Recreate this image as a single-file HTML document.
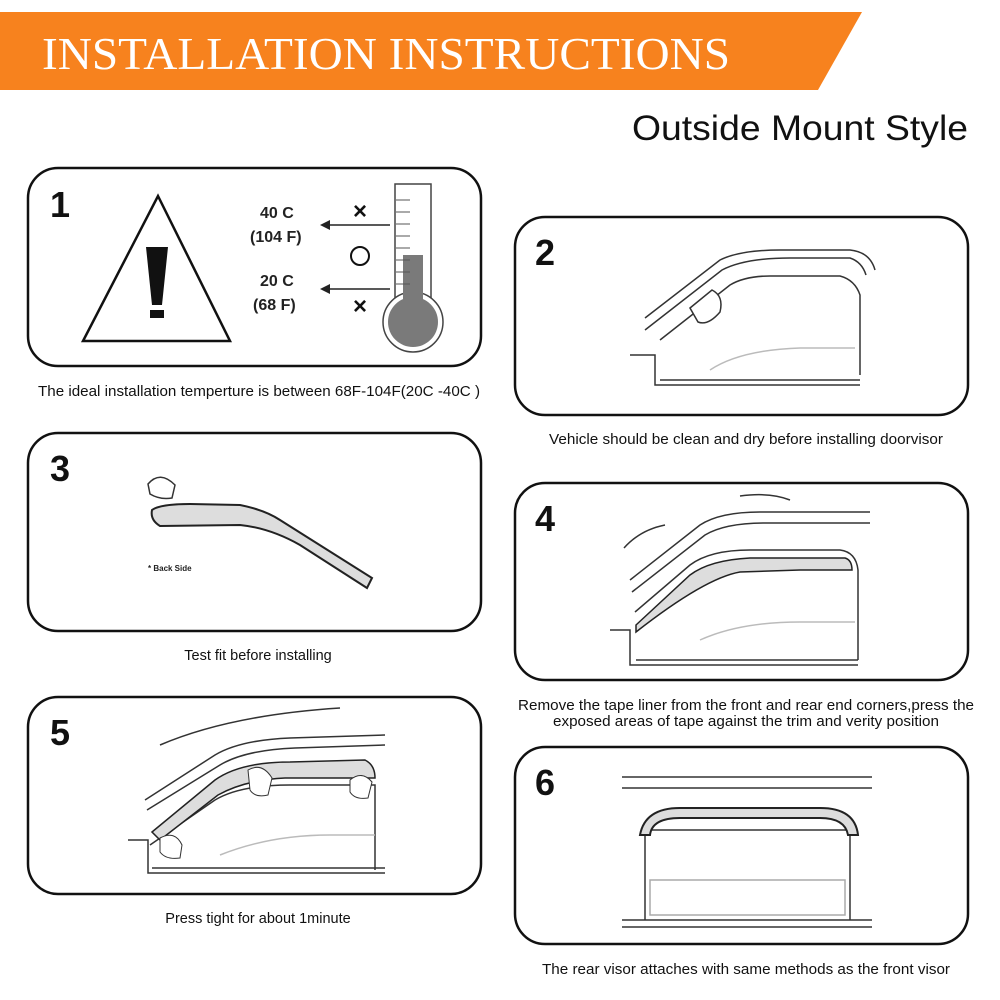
<!DOCTYPE html>
<html><head><meta charset="utf-8"><style>
html,body{margin:0;padding:0;background:#fff}
svg{display:block}
text{font-family:"Liberation Sans",Arial,sans-serif}
</style></head><body>
<svg width="1000" height="1000" viewBox="0 0 1000 1000">
<polygon points="0,12 862,12 818,90 0,90" fill="#f7821e"/>
<text x="42" y="69" font-size="46" fill="#fff" textLength="688" lengthAdjust="spacingAndGlyphs" style="font-family:'Liberation Serif',serif">INSTALLATION INSTRUCTIONS</text>
<text x="968" y="140" font-size="35" text-anchor="end" fill="#111" textLength="336" lengthAdjust="spacingAndGlyphs">Outside Mount Style</text>

<g fill="none" stroke="#111" stroke-width="2.5">
<rect x="28" y="168" width="453" height="198" rx="30"/>
<rect x="515" y="217" width="453" height="198" rx="30"/>
<rect x="28" y="433" width="453" height="198" rx="30"/>
<rect x="515" y="483" width="453" height="197" rx="30"/>
<rect x="28" y="697" width="453" height="197" rx="30"/>
<rect x="515" y="747" width="453" height="197" rx="30"/>
</g>
<g font-size="36" font-weight="bold" fill="#111">
<text x="50" y="217">1</text><text x="535" y="265">2</text>
<text x="50" y="481">3</text><text x="535" y="531">4</text>
<text x="50" y="745">5</text><text x="535" y="795">6</text>
</g>
<g font-size="14.5" fill="#111" text-anchor="middle">
<text x="259" y="396" textLength="442" lengthAdjust="spacingAndGlyphs">The ideal installation temperture is between 68F-104F(20C -40C )</text>
<text x="746" y="444" textLength="394" lengthAdjust="spacingAndGlyphs">Vehicle should be clean and dry before installing doorvisor</text>
<text x="258" y="660">Test fit before installing</text>
<text x="746" y="710" textLength="456" lengthAdjust="spacingAndGlyphs">Remove the tape liner from the front and rear end corners,press the</text>
<text x="746" y="726" textLength="386" lengthAdjust="spacingAndGlyphs">exposed areas of tape against the trim and verity position</text>
<text x="258" y="923">Press tight for about 1minute</text>
<text x="746" y="974" textLength="408" lengthAdjust="spacingAndGlyphs">The rear visor attaches with same methods as the front visor</text>
</g>

<!-- panel 1 -->
<polygon points="158,196 230,341 83,341" fill="none" stroke="#111" stroke-width="2.5"/>
<polygon points="146,247 168,247 162,305 152,305" fill="#111"/>
<rect x="150" y="310" width="14" height="8" fill="#111"/>
<g font-size="16" font-weight="bold" fill="#222">
<text x="260" y="218">40 C</text><text x="250" y="242">(104 F)</text>
<text x="260" y="286">20 C</text><text x="253" y="310">(68  F)</text>
</g>
<g stroke="#222" stroke-width="1.5"><line x1="390" y1="225" x2="325" y2="225"/><line x1="390" y1="289" x2="325" y2="289"/></g>
<polygon points="320,225 330,220 330,230" fill="#222"/><polygon points="320,289 330,284 330,294" fill="#222"/>
<g font-size="24" font-weight="bold" fill="#111" text-anchor="middle"><text x="360" y="219">×</text><text x="360" y="314">×</text></g>
<circle cx="360" cy="256" r="9" fill="none" stroke="#111" stroke-width="2"/>
<rect x="395" y="184" width="36" height="130" fill="#fff" stroke="#444" stroke-width="1.5"/>
<circle cx="413" cy="322" r="30" fill="#fff" stroke="#444" stroke-width="1.5"/>
<rect x="403" y="255" width="20" height="70" fill="#7a7a7a"/>
<circle cx="413" cy="322" r="25" fill="#7a7a7a"/>
<g stroke="#555" stroke-width="1"><line x1="396" y1="200" x2="410" y2="200"/><line x1="396" y1="212" x2="410" y2="212"/><line x1="396" y1="224" x2="410" y2="224"/><line x1="396" y1="236" x2="410" y2="236"/><line x1="396" y1="248" x2="410" y2="248"/><line x1="396" y1="260" x2="410" y2="260"/><line x1="396" y1="272" x2="410" y2="272"/><line x1="396" y1="284" x2="410" y2="284"/></g>

<!-- panel 2 -->
<g fill="none" stroke="#333" stroke-width="1.5">
<path d="M645,318 L720,260 Q740,250 780,250 L850,250 Q870,252 875,270"/>
<path d="M645,330 L722,270 Q745,258 790,258 L850,258 Q862,262 866,275"/>
<path d="M660,340 L730,285 Q745,276 770,276 L840,276 Q855,280 860,295 L860,375"/>
<path d="M630,355 L655,355 L655,385 L860,385"/><line x1="660" y1="380" x2="860" y2="380"/>
<path d="M710,370 Q740,350 800,348 L855,348" stroke="#bbb"/>
</g>
<path d="M690,308 L712,290 Q724,296 720,312 Q708,326 698,322 Z" fill="#fff" stroke="#333" stroke-width="1.5"/>

<!-- panel 3 -->
<path d="M152,510 Q160,504 190,504 L240,505 Q265,510 280,520 L372,578 L367,588 L300,545 Q270,528 240,525 L160,526 Q150,520 152,510 Z" fill="#ddd" stroke="#222" stroke-width="2"/>
<path d="M148,484 Q160,470 175,485 L172,498 Q160,500 150,494 Z" fill="#fff" stroke="#333" stroke-width="1.5"/>
<text x="148" y="571" font-size="8" font-weight="bold" fill="#222">* Back Side</text>

<!-- panel 4 -->
<g fill="none" stroke="#333" stroke-width="1.5">
<path d="M630,580 L700,525 Q720,512 760,512 L870,512"/>
<path d="M632,592 L705,535 Q725,523 765,523 L870,523"/>
<path d="M635,612 L690,565 Q710,550 750,550 L840,550 Q856,552 858,570 L858,660"/>
<path d="M610,630 L630,630 L630,665 L858,665"/><line x1="636" y1="660" x2="858" y2="660"/>
<path d="M700,640 Q740,622 800,622 L855,622" stroke="#bbb"/>
<path d="M624,548 Q640,530 665,525"/><path d="M790,500 Q770,492 740,496"/>
</g>
<path d="M636,625 L690,575 Q710,560 750,558 L845,558 Q852,560 852,570 L800,570 L740,572 Q705,578 636,632 Z" fill="#ddd" stroke="#222" stroke-width="1.5"/>

<!-- panel 5 -->
<g fill="none" stroke="#333" stroke-width="1.5">
<path d="M160,745 Q230,715 340,708"/>
<path d="M145,800 L215,755 Q240,740 290,738 L385,735"/>
<path d="M147,810 L220,765 Q245,750 295,748 L385,745"/>
<path d="M150,845 L215,800 Q240,785 290,785 L375,785 L375,870"/>
<path d="M128,840 L148,840 L148,873 L385,873"/><line x1="152" y1="868" x2="385" y2="868"/>
<path d="M220,855 Q270,835 330,835 L375,835" stroke="#bbb"/>
</g>
<path d="M152,832 L215,780 Q240,762 290,762 L365,760 Q375,765 375,778 L340,778 L285,778 Q245,780 218,795 L160,840 Z" fill="#ddd" stroke="#222" stroke-width="1.5"/>
<path d="M248,770 Q262,762 272,778 L268,795 Q255,798 250,790 Z" fill="#fff" stroke="#333"/>
<path d="M350,780 Q362,770 372,782 L368,798 Q355,800 350,792 Z" fill="#fff" stroke="#333"/>
<path d="M160,838 Q175,830 182,845 L180,858 Q166,860 160,852 Z" fill="#fff" stroke="#333"/>

<!-- panel 6 -->
<g fill="none" stroke="#333" stroke-width="1.5">
<line x1="622" y1="777" x2="872" y2="777"/><line x1="622" y1="788" x2="872" y2="788"/>
<path d="M645,920 L645,830 L850,830 L850,920"/>
<rect x="650" y="880" width="195" height="35" stroke="#aaa"/>
<line x1="622" y1="920" x2="872" y2="920"/><line x1="622" y1="927" x2="872" y2="927"/>
</g>
<path d="M640,835 Q645,808 680,808 L820,808 Q855,808 858,835 L848,835 Q845,818 820,818 L680,818 Q652,818 650,835 Z" fill="#ddd" stroke="#222" stroke-width="2"/>
</svg>
</body></html>
